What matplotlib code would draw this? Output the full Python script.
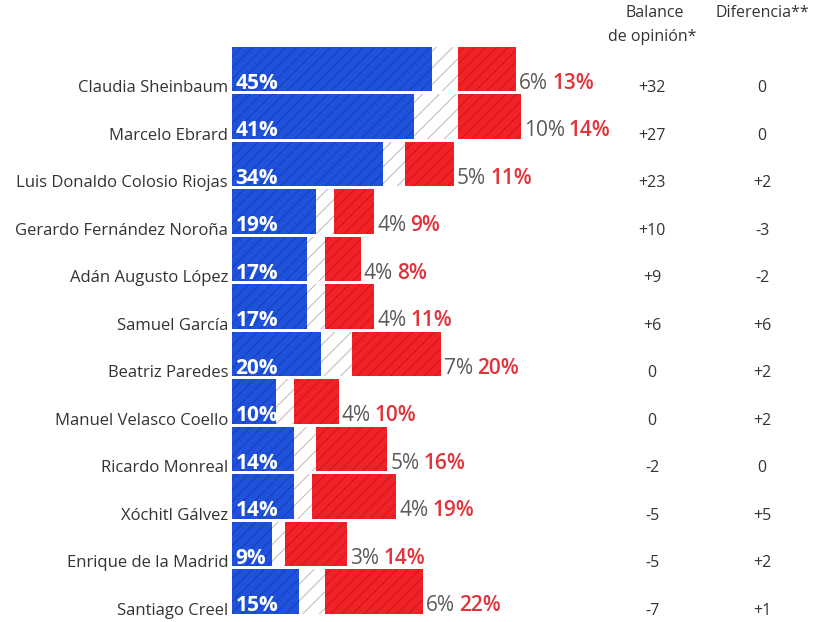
import numpy as np
import matplotlib.pyplot as plt

plt.rcParams['font.family'] = ['Open Sans', 'DejaVu Sans']
plt.rcParams['hatch.linewidth'] = 0.7

## Data
names = ['Claudia Sheinbaum', 'Marcelo Ebrard', 'Luis Donaldo Colosio Riojas',
         'Gerardo Fernández Noroña', 'Adán Augusto López', 'Samuel García',
         'Beatriz Paredes', 'Manuel Velasco Coello', 'Ricardo Monreal',
         'Xóchitl Gálvez', 'Enrique de la Madrid', 'Santiago Creel']
buena = [45, 41, 34, 19, 17, 17, 20, 10, 14, 14, 9, 15]
neutral = [6, 10, 5, 4, 4, 4, 7, 4, 5, 4, 3, 6]
mala = [13, 14, 11, 9, 8, 11, 20, 10, 16, 19, 14, 22]
balance = ['+32', '+27', '+23', '+10', '+9', '+6', '0', '0', '-2', '-5', '-5', '-7']
diferencia = ['0', '0', '+2', '-3', '-2', '+6', '+2', '+2', '0', '+5', '+2', '+1']

blue = '#1f52dc'
red = '#ef2228'
red_txt = '#e2323a'
gray_txt = '#5a5a5a'
dark = '#333333'

W, H = 824, 622
fig = plt.figure(figsize=(W / 100, H / 100), dpi=100)
ax = fig.add_axes([232 / W, 1 - 615.3 / H, 592 / W, 570 / H])

y = np.arange(len(names))
b = np.array(buena)
n = np.array(neutral)
m = np.array(mala)
h = 0.93

ax.barh(y, b, height=h, color=blue, edgecolor='#173fb4', hatch='///', linewidth=0)
ax.barh(y, n, left=b, height=h, color='white', edgecolor='#c2b6b4', hatch='//', linewidth=0)
ax.barh(y, m, left=b + n, height=h, color=red, edgecolor='#d3141b', hatch='///', linewidth=0)

ax.set_xlim(0, 592 / 4.44)
ax.set_ylim(11.5, -0.5)
ax.axis('off')

for i in range(len(names)):
    yt = y[i] + 0.3
    ax.text(-0.9, y[i] + 0.4, names[i], ha='right', va='center', fontsize=12, color=dark)
    ax.text(0.8, yt, f'{buena[i]}%', ha='left', va='center', fontsize=15,
            fontweight='bold', color='white')
    end = b[i] + n[i] + m[i]
    t1 = ax.text(end + 0.7, yt, f'{neutral[i]}%', ha='left', va='center',
                 fontsize=15, color=gray_txt)
    ax.annotate(f'{mala[i]}%', xy=(1, 0.5), xycoords=t1, xytext=(3, 0),
                textcoords='offset points', ha='left', va='center',
                fontsize=15, fontweight='semibold', color=red_txt)
    ax.text((652 - 232) / 4.44, y[i] + 0.4, balance[i], ha='center', va='center',
            fontsize=11.5, color=dark)
    ax.text((762 - 232) / 4.44, y[i] + 0.4, diferencia[i], ha='center', va='center',
            fontsize=11.5, color=dark)

fig.text(655 / W, 1 - 13 / H, 'Balance', ha='center', va='center', fontsize=11.5, color=dark)
fig.text(652 / W, 1 - 37 / H, 'de opinión*', ha='center', va='center', fontsize=11.5, color=dark)
fig.text(762 / W, 1 - 13 / H, 'Diferencia**', ha='center', va='center', fontsize=11.5, color=dark)

plt.savefig('out.png', dpi=100)
